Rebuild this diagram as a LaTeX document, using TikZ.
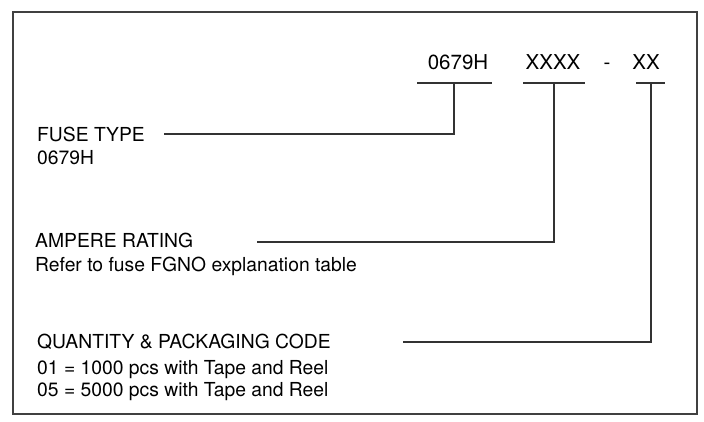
\documentclass[tikz,border=0pt]{standalone}
\usepackage{fontspec}
\setmainfont{TeX Gyre Heros}

\tikzset{
  lbl/.style={anchor=base west, inner sep=0pt, font=\fontsize{19.3}{23}\selectfont},
  hdr/.style={anchor=base, inner sep=0pt, font=\fontsize{20.5}{24}\selectfont},
  lead/.style={draw=black!80, line width=1.6pt},
}

\begin{document}
\begin{tikzpicture}[x=1pt,y=-1pt]
      \useasboundingbox (0,0) rectangle (704,421);
      \draw [black!75, line width=2.6pt] (13,12) rectangle (697,414);

      % part number
      \node (ft) [hdr] at (458,69) {0679H};
      \node (ar) [hdr] at (553,69) {XXXX};
      \node (dash) [hdr] at (607,69) {-};
      \node (qp) [hdr] at (646,69) {XX};

      \coordinate (ftU) at (454,83);
      \coordinate (arU) at (554,83);
      \coordinate (qpU) at (651,83);
      \draw [lead] (417,83) -- (492,83);
      \draw [lead] (523,83) -- (585,83);
      \draw [lead] (636,83) -- (665,83);

      % fields
      \node (fuse) [lbl] at (37,141) {FUSE TYPE};
      \node [lbl] at (37,164) {0679H};

      \node (amp) [lbl] at (35,247) {AMPERE RATING};
      \node [lbl] at (35,271) {Refer to fuse FGNO explanation table};

      \node (qty) [lbl] at (37,348) {QUANTITY \& PACKAGING CODE};
      \node [lbl] at (37,374) {01 = 1000 pcs with Tape and Reel};
      \node [lbl] at (37,396) {05 = 5000 pcs with Tape and Reel};

      \coordinate (fuseL) at (164,134);
      \coordinate (ampL) at (257,242);
      \coordinate (qtyL) at (403,342);
      \draw [lead] (fuseL) -| (ftU);
      \draw [lead] (ampL) -| (arU);
      \draw [lead] (qtyL) -| (qpU);
    \end{tikzpicture}
\end{document}
